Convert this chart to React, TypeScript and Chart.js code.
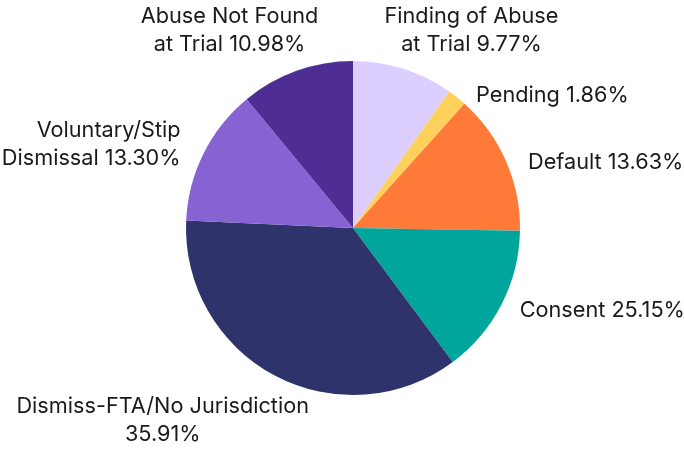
import React, { useEffect, useRef } from "react";
import { Chart, registerables } from "chart.js";

Chart.register(...registerables);

const categories = [
  "Finding of Abuse at Trial",
  "Pending",
  "Default",
  "Consent",
  "Dismiss-FTA/No Jurisdiction",
  "Voluntary/Stip Dismissal",
  "Abuse Not Found at Trial",
];
// slice sizes as drawn in the picture
const sliceValues = [9.77, 1.86, 13.63, 14.55, 35.91, 13.3, 10.98];
// label text as printed in the picture
const labelLines = [
  ["Finding of Abuse", "at Trial 9.77%"],
  ["Pending 1.86%"],
  ["Default 13.63%"],
  ["Consent 25.15%"],
  ["Dismiss-FTA/No Jurisdiction", "35.91%"],
  ["Voluntary/Stip", "Dismissal 13.30%"],
  ["Abuse Not Found", "at Trial 10.98%"],
];
const colors = ["#dccfff", "#fdd15c", "#fd7a38", "#00a59c", "#2f336b", "#8662d3", "#4e2e95"];

// label placement relative to the slice's outer mid-point
const labelOffsets: [number, number, CanvasTextAlign][] = [
  [68, -38, "center"],
  [19, -2, "left"],
  [22, 1, "left"],
  [18, 6, "left"],
  [-112, 45, "center"],
  [-23, -9, "right"],
  [-67, -40, "center"],
];

const labelPlugin = {
  id: "outerLabels",
  afterDraw(chart: any) {
    const ctx = chart.ctx;
    const meta = chart.getDatasetMeta(0);
    ctx.save();
    ctx.font = '21.7px "Inter"';
    ctx.fillStyle = "#1a1a1a";
    ctx.textBaseline = "middle";
    const lineH = 28;
    meta.data.forEach((arc: any, i: number) => {
      const { x, y, startAngle, endAngle, outerRadius } = arc.getProps(
        ["x", "y", "startAngle", "endAngle", "outerRadius"],
        true
      );
      const mid = (startAngle + endAngle) / 2;
      const px = x + Math.cos(mid) * outerRadius;
      const py = y + Math.sin(mid) * outerRadius;
      const [dx, dy, align] = labelOffsets[i];
      const lines = labelLines[i];
      ctx.textAlign = align;
      const top = py + dy - ((lines.length - 1) * lineH) / 2;
      lines.forEach((l, j) => ctx.fillText(l, px + dx, top + j * lineH));
    });
    ctx.restore();
  },
};

export default function App() {
  const ref = useRef<HTMLCanvasElement>(null);
  useEffect(() => {
    document.body.style.margin = "0";
    const chart = new Chart(ref.current!, {
      type: "pie",
      data: {
        labels: categories,
        datasets: [
          {
            data: sliceValues,
            backgroundColor: colors,
            borderWidth: 0,
          },
        ],
      },
      options: {
        animation: false,
        responsive: false,
        layout: { padding: { left: 186, right: 164, top: 61, bottom: 54 } },
        plugins: { legend: { display: false }, tooltip: { enabled: false } },
      },
      plugins: [labelPlugin],
    });
    return () => chart.destroy();
  }, []);
  return (
    <div style={{ width: 684, height: 449 }}>
      <canvas ref={ref} width={684} height={449} />
    </div>
  );
}
